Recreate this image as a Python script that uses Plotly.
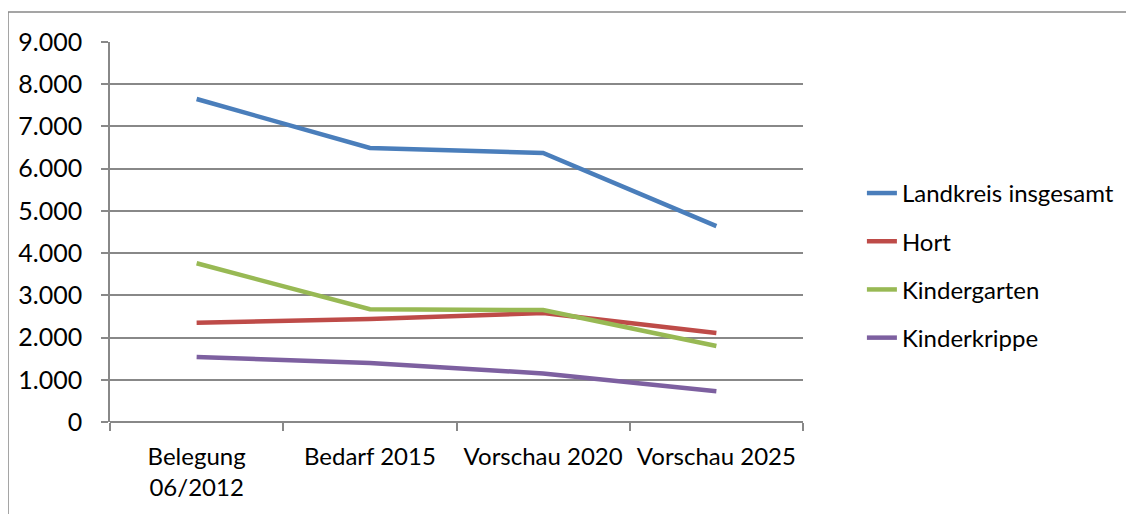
import plotly.graph_objects as go

categories = ["Belegung<br>06/2012", "Bedarf 2015", "Vorschau 2020", "Vorschau 2025"]
landkreis = [7650, 6490, 6370, 4640]
hort = [2350, 2440, 2580, 2110]
kindergarten = [3760, 2670, 2650, 1800]
kinderkrippe = [1540, 1400, 1150, 730]

series = [
    ("Landkreis insgesamt", landkreis, "#4a7ebb"),
    ("Hort", hort, "#be4b48"),
    ("Kindergarten", kindergarten, "#98b954"),
    ("Kinderkrippe", kinderkrippe, "#7d60a0"),
]

fig = go.Figure()
for name, vals, col in series:
    fig.add_trace(go.Scatter(
        x=categories, y=vals, name=name, mode="lines", legendgroup=name,
        line=dict(color=col, width=4.5),
    ))

W, H = 1134, 514
ml, mr, mt, mb = 102, 339, 34, 100
pw, ph = W - ml - mr, H - mt - mb

fig.update_layout(
    width=W, height=H,
    margin=dict(l=ml, r=mr, t=mt, b=mb),
    paper_bgcolor="white", plot_bgcolor="white",
    separators=",.",
    font=dict(family="Lato, Open Sans, sans-serif", size=24, color="black"),
    showlegend=True,
    legend=dict(
        x=1.085, y=0.412, xanchor="left", yanchor="middle",
        traceorder="grouped", tracegroupgap=14, font=dict(size=24),
        bgcolor="rgba(0,0,0,0)",
    ),
    xaxis=dict(
        type="category", range=[-0.5, 3.5], automargin=False,
        tickson="boundaries", ticks="outside", ticklen=8, tickcolor="#888888",
        tickwidth=1.5,
        showline=False, showgrid=False, zeroline=False,
        ticklabelstandoff=18, tickfont=dict(size=24),
    ),
    yaxis=dict(
        range=[0, 9000], dtick=1000, tickformat=",d", automargin=False,
        ticks="outside", ticklen=7, tickcolor="#888888", tickwidth=1.5,
        showline=True, linecolor="#888888", linewidth=1.5,
        showgrid=True, gridcolor="#888888", gridwidth=1.5,
        zeroline=True, zerolinecolor="#888888", zerolinewidth=1.5,
        ticklabelstandoff=14, tickfont=dict(size=25),
    ),
    shapes=[
        dict(type="rect", xref="paper", yref="paper",
             x0=(0 - ml) / pw, x1=(W + 20 - ml) / pw,
             y0=(H - mb - (H + 20)) / ph, y1=(H - mb - 4) / ph,
             line=dict(color="#888888", width=1.5), layer="below"),
    ],
)

fig.write_html("out.html")
